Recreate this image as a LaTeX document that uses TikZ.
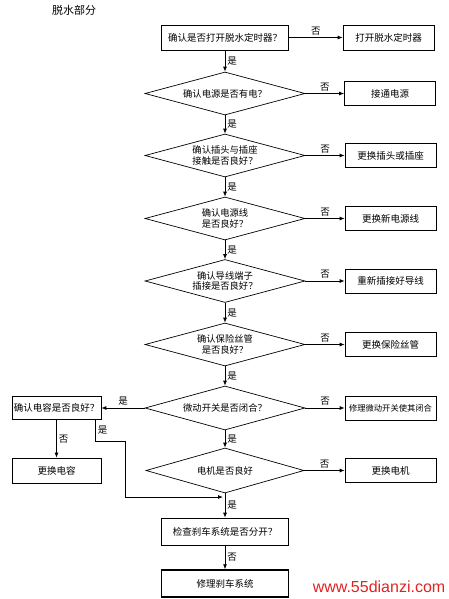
\documentclass[tikz,border=0pt]{standalone}
\usepackage{fontspec}
\setmainfont{Noto Sans CJK SC}
\newfontfamily\sitefont{Liberation Sans}
\usetikzlibrary{shapes.geometric,arrows.meta}
\definecolor{sitered}{RGB}{225,35,35}
\tikzset{
  box/.style={draw,rectangle,line width=0.7pt,minimum width=91pt,minimum height=24pt,inner sep=1pt,font=\fontsize{9.5}{11}\selectfont},
  widebox/.style={box,minimum width=127pt,minimum height=26pt},
  ask/.style={draw,diamond,aspect=3.7,line width=0.7pt,minimum width=160pt,minimum height=43pt,inner sep=0pt,align=center,font=\fontsize{9.3}{10.5}\selectfont},
  arr/.style={line width=0.8pt,-{Latex[length=5pt,width=4pt]}},
  lbl/.style={font=\fontsize{9.5}{11}\selectfont,inner sep=2pt}
}
\begin{document}
\begin{tikzpicture}[x=1pt,y=-1pt]
  \useasboundingbox (0,0) rectangle (449,599);
  \node[font=\fontsize{11}{12}\selectfont] (title) at (74,10) {脱水部分};
  % main column
  \node[widebox,minimum height=25pt] (q1) at (225,37.5) {确认是否打开脱水定时器？};
  \node[ask] (d1) at (225,93.5) {确认电源是否有电？};
  \node[ask] (d2) at (225,155.5) {确认插头与插座\\接触是否良好？};
  \node[ask] (d3) at (225,218.5) {确认电源线\\是否良好？};
  \node[ask] (d4) at (225,281) {确认导线端子\\插接是否良好？};
  \node[ask] (d5) at (225,344.5) {确认保险丝管\\是否良好？};
  \node[ask,minimum height=44pt] (d6) at (225,408) {微动开关是否闭合？};
  \node[ask,minimum width=158pt,minimum height=45pt] (d7) at (225,470.5) {电机是否良好};
  \node[widebox,minimum height=27pt] (q9) at (225,531.5) {检查刹车系统是否分开？};
  \node[widebox,minimum height=27pt,line width=1.4pt] (q10) at (225,583.5) {修理刹车系统};
  % answers on the right
  \node[box,minimum height=25pt] (a1) at (388.5,37.5) {打开脱水定时器};
  \node[box] (a2) at (390,93.5) {接通电源};
  \node[box] (a3) at (390.5,155.5) {更换插头或插座};
  \node[box] (a4) at (390.5,218.5) {更换新电源线};
  \node[box] (a5) at (390.5,281) {重新插接好导线};
  \node[box] (a6) at (390.5,344.5) {更换保险丝管};
  \node[box,font=\fontsize{8.3}{10}\selectfont] (a7) at (390.5,408) {修理微动开关使其闭合};
  \node[box] (a8) at (390.5,470.5) {更换电机};
  % capacitor branch
  \node[box,minimum width=89pt,minimum height=23pt] (c1) at (56.5,408) {确认电容是否良好？};
  \node[box,minimum width=89pt,minimum height=25pt] (c2) at (56.5,470.5) {更换电容};
  \coordinate (j1) at (125,441);
  \coordinate (m) at (223,497);
  \node[text=sitered,font=\sitefont\fontsize{16}{18}\selectfont,inner sep=0pt] (site) at (379,587) {www.55dianzi.com};
  % yes arrows
  \draw[arr] (q1) -- node[lbl,right] {是} (d1);
  \draw[arr] (d1) -- node[lbl,right] {是} (d2);
  \draw[arr] (d2) -- node[lbl,right] {是} (d3);
  \draw[arr] (d3) -- node[lbl,right] {是} (d4);
  \draw[arr] (d4) -- node[lbl,right] {是} (d5);
  \draw[arr] (d5) -- node[lbl,right] {是} (d6);
  \draw[arr] (d6) -- node[lbl,right] {是} (d7);
  \draw[arr] (d7) -- node[lbl,right] {是} (q9);
  \draw[arr] (q9) -- node[lbl,right] {否} (q10);
  % no arrows
  \draw[arr] (q1.east) -- node[lbl,above] {否} (a1.west);
  \draw[arr] (d1.east) -- node[lbl,above] {否} (a2.west);
  \draw[arr] (d2.east) -- node[lbl,above] {否} (a3.west);
  \draw[arr] (d3.east) -- node[lbl,above] {否} (a4.west);
  \draw[arr] (d4.east) -- node[lbl,above] {否} (a5.west);
  \draw[arr] (d5.east) -- node[lbl,above] {否} (a6.west);
  \draw[arr] (d6.east) -- node[lbl,above] {否} (a7.west);
  \draw[arr] (d7.east) -- node[lbl,above] {否} (a8.west);
  % capacitor
  \draw[arr] (d6.west) -- node[lbl,above] {是} (c1.east);
  \draw[arr] (c1) -- node[lbl,right] {否} (c2);
  \draw[arr] ([xshift=-6pt]c1.south east) |- node[lbl,right,pos=0.25] {是} (j1) |- (m);
\end{tikzpicture}
\end{document}
